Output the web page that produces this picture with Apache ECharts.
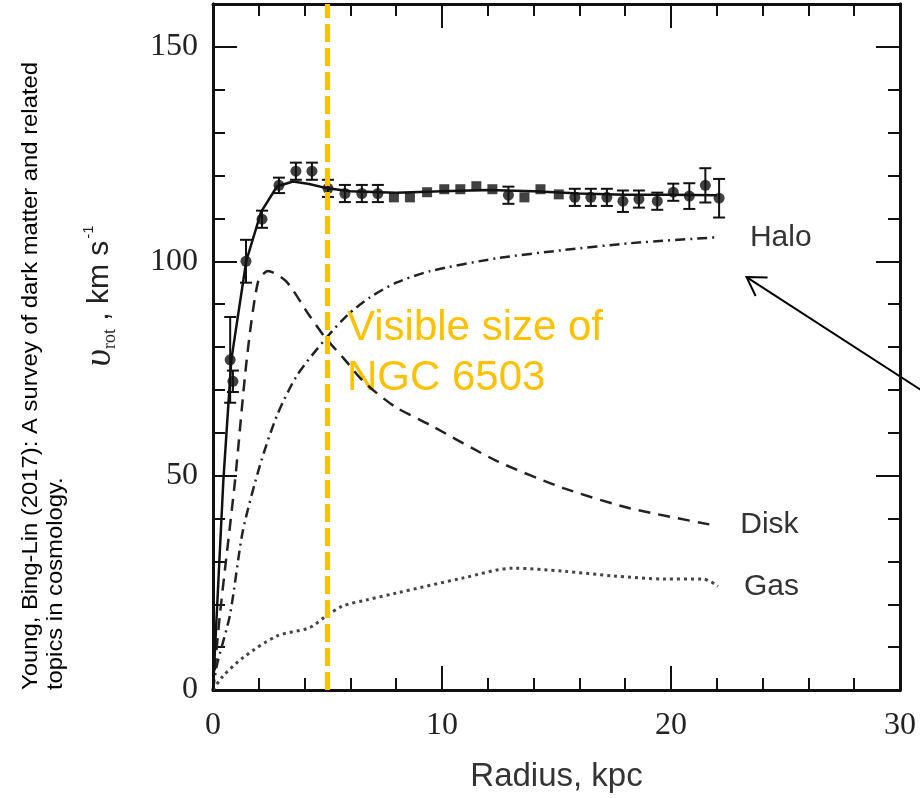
<!DOCTYPE html>
<html>
<head>
<meta charset="utf-8">
<script src="https://cdn.jsdelivr.net/npm/echarts@6/dist/echarts.min.js"></script>
<style>
  html, body { margin: 0; padding: 0; background: #fff; }
  #chart { width: 920px; height: 798px; }
</style>
</head>
<body>
<div id="chart"></div>
<script>
// observed rotation curve of NGC 6503 (radius kpc, velocity km/s, error)
const obsR = [0.75, 0.87, 1.44, 2.14, 2.88, 3.62, 4.32, 5.02, 5.76, 6.5, 7.2, 7.9, 8.6, 9.35, 10.1, 10.8, 11.5, 12.2, 12.9, 13.6, 14.3, 15.1, 15.8, 16.5, 17.2, 17.9, 18.6, 19.4, 20.1, 20.8, 21.5, 22.1];
const obsV = [77, 72, 100, 109.8, 117.7, 121, 121, 117, 115.8, 115.8, 115.8, 114.9, 114.9, 116.1, 116.8, 116.8, 117.5, 116.8, 115.4, 114.9, 116.8, 115.6, 114.9, 114.9, 114.9, 114, 114.5, 114, 116.1, 115.2, 117.7, 114.7];
const obsErr = [10, 2.5, 5, 2, 1.8, 2, 2, 2, 2, 2, 2, 0, 0, 0, 0, 0, 0, 0, 2, 0, 0, 0, 2, 2, 2, 2.5, 2, 2, 2, 3, 4, 4.5];

// model components
const totalR = [0, 0.45, 0.8, 1.45, 2.1, 2.8, 3.5, 4.2, 5, 6, 8, 10, 12, 14, 16, 18, 20, 22];
const totalV = [0, 48.7, 77, 100, 111.5, 117.5, 118.6, 118, 117, 116.3, 116, 116.3, 116.6, 116.3, 115.8, 115.5, 115.5, 115.4];

const haloR = [0, 0.17, 0.74, 1.3, 2.05, 2.8, 3.67, 4.93, 5.9, 6.86, 8.0, 9.48, 12.4, 15.3, 18.2, 22.05];
const haloV = [0, 5.8, 17.5, 37, 52.4, 64.1, 73.4, 82, 87.6, 91.6, 95, 97.7, 100.7, 102.6, 104.2, 105.6];

const diskR = [0, 0.3, 0.96, 1.48, 1.97, 2.4, 3.2, 4.2, 4.93, 5.7, 6.4, 7.0, 8.0, 9.48, 12.4, 15.3, 18.2, 21.8];
const diskV = [0, 17.5, 48.7, 77.4, 95.3, 97.7, 95.3, 87.4, 82, 77.4, 72.9, 69.9, 65.9, 61.8, 53.4, 47.1, 42.4, 38.5];

const gasR = [0, 0.4, 1.3, 2.8, 4.2, 4.93, 5.68, 6.7, 8.0, 10.9, 13.1, 15.3, 17.5, 19.7, 21.4, 22.05];
const gasV = [0, 3, 7.5, 12.6, 14.5, 17.2, 19.6, 21, 22.6, 26.1, 28.4, 27.7, 26.6, 25.9, 25.9, 24.2];

const visibleSize = 5; // kpc

const pairs = (xs, ys) => xs.map((x, i) => [x, ys[i]]);
const obsData = obsR.map((r, i) => [r, obsV[i], obsErr[i]]);

const serif = 'Liberation Serif';
const sans = 'Liberation Sans';
const axisColor = '#111';

function xAx(pos, label) {
  return {
    type: 'value', position: pos, min: 0, max: 30, interval: 10,
    axisLine: { show: true, onZero: false, lineStyle: { color: axisColor, width: 3 } },
    axisTick: { show: true, inside: true, length: 24, lineStyle: { color: axisColor, width: 2 } },
    minorTick: { show: true, splitNumber: 5, length: 12, lineStyle: { color: axisColor, width: 2 } },
    splitLine: { show: false },
    axisLabel: { show: label, fontFamily: serif, fontSize: 32, color: '#222', margin: 20 },
    name: label ? 'Radius, kpc' : '', nameLocation: 'middle', nameGap: 70,
    nameTextStyle: { fontFamily: sans, fontSize: 33, color: '#333' }
  };
}
function yAx(pos, step, len, label) {
  return {
    type: 'value', position: pos, min: 0, max: 160, interval: step,
    axisLine: { show: true, onZero: false, lineStyle: { color: axisColor, width: 3 } },
    axisTick: { show: true, inside: true, length: len, lineStyle: { color: axisColor, width: 2 } },
    splitLine: { show: false },
    axisLabel: {
      show: label, fontFamily: serif, fontSize: 32, color: '#222', margin: 15,
      formatter: v => (v % 50 === 0 ? String(v) : '')
    }
  };
}

const chart = echarts.init(document.getElementById('chart'), null, { renderer: 'canvas' });

chart.setOption({
  animation: false,
  backgroundColor: '#fff',
  grid: { left: 213, right: 20, top: 4, bottom: 106 },
  xAxis: [xAx('bottom', true), xAx('top', false)],
  yAxis: [yAx('left', 50, 24, true), yAx('left', 10, 12, false), yAx('right', 50, 24, false), yAx('right', 10, 12, false)],
  series: [
    {
      name: 'Halo', type: 'line', data: pairs(haloR, haloV), smooth: 0.25, showSymbol: false,
      lineStyle: { color: '#222', width: 2.5, type: [10, 5, 2, 5] },
      endLabel: { show: true, formatter: 'Halo', distance: 32, fontFamily: sans, fontSize: 30, color: '#333' }
    },
    {
      name: 'Disk', type: 'line', data: pairs(diskR, diskV), smooth: 0.25, showSymbol: false,
      lineStyle: { color: '#222', width: 2.5, type: [12, 8] },
      endLabel: { show: true, formatter: 'Disk', distance: 28, fontFamily: sans, fontSize: 30, color: '#333' }
    },
    {
      name: 'Gas', type: 'line', data: pairs(gasR, gasV), smooth: 0.3, showSymbol: false,
      lineStyle: { color: '#444', width: 3, type: [3, 4] },
      endLabel: { show: true, formatter: 'Gas', distance: 26, fontFamily: sans, fontSize: 30, color: '#333' }
    },
    {
      name: 'Total', type: 'line', data: pairs(totalR, totalV), smooth: false, showSymbol: false,
      lineStyle: { color: '#111', width: 2.5 },
      markLine: {
        silent: true, symbol: 'none', animation: false,
        label: { show: false },
        lineStyle: { color: '#FFC000', width: 5, type: [18, 6] },
        data: [{ xAxis: visibleSize }]
      }
    },
    {
      name: 'err', type: 'custom', data: obsData, encode: { x: 0, y: 1 },
      renderItem: function (params, api) {
        const x = api.value(0), v = api.value(1), e = api.value(2);
        if (!e) return null;
        const t = api.coord([x, v + e]);
        const b = api.coord([x, v - e]);
        const st = { stroke: '#111', lineWidth: 2 };
        return {
          type: 'group',
          children: [
            { type: 'line', shape: { x1: t[0], y1: t[1], x2: b[0], y2: b[1] }, style: st },
            { type: 'line', shape: { x1: t[0] - 6, y1: t[1], x2: t[0] + 6, y2: t[1] }, style: st },
            { type: 'line', shape: { x1: b[0] - 6, y1: b[1], x2: b[0] + 6, y2: b[1] }, style: st }
          ]
        };
      }
    },
    {
      name: 'Observed', type: 'scatter', data: obsData,
      symbol: v => (v[2] > 0 ? 'circle' : 'rect'),
      symbolSize: v => (v[2] > 0 ? 11 : 10),
      itemStyle: { color: '#111' }
    }
  ]
});

// annotations
const tip = chart.convertToPixel({ xAxisIndex: 0, yAxisIndex: 0 }, [23.3, 96.3]);
const tail = chart.convertToPixel({ xAxisIndex: 0, yAxisIndex: 0 }, [31.2, 69.0]);
const ang = Math.atan2(tail[1] - tip[1], tail[0] - tip[0]);
const arm = 21;
const a1 = [tip[0] + arm * Math.cos(ang - 0.55), tip[1] + arm * Math.sin(ang - 0.55)];
const a2 = [tip[0] + arm * Math.cos(ang + 0.55), tip[1] + arm * Math.sin(ang + 0.55)];

// citation is set in a narrow face: squeeze regular sans to the same length
const citeLine1 = 'Young, Bing-Lin (2017): A survey of dark matter and related';
const citeLine2 = 'topics in cosmology.';
const mctx = document.createElement('canvas').getContext('2d');
mctx.font = '22px "Liberation Sans"';
const citeScale = 628 / mctx.measureText(citeLine1).width;

chart.setOption({
  graphic: [
    {
      id: 'ylabel', type: 'text', x: 100, y: 296, rotation: Math.PI / 2,
      style: {
        text: '{u|υ}{sub|rot}{n| , km s}{sup|-1}',
        align: 'center', verticalAlign: 'middle',
        rich: {
          u: { fontFamily: serif, fontStyle: 'italic', fontSize: 38, fill: '#222' },
          sub: { fontFamily: serif, fontSize: 18, fill: '#222', verticalAlign: 'bottom', padding: [14, 0, 0, 0] },
          n: { fontFamily: sans, fontSize: 30, fill: '#222' },
          sup: { fontFamily: sans, fontSize: 15, fill: '#222', verticalAlign: 'top', padding: [0, 0, 16, 2] }
        }
      }
    },
    {
      id: 'cite', type: 'text', x: 18, y: 690, rotation: Math.PI / 2, scaleX: citeScale,
      style: {
        text: citeLine1 + '\n' + citeLine2,
        fontFamily: sans, fontSize: 22, lineHeight: 25, fill: '#000',
        align: 'left', verticalAlign: 'top'
      }
    },
    {
      id: 'visible', type: 'text', left: 347, top: 303,
      style: {
        text: 'Visible size of\nNGC 6503', fontFamily: sans, fontSize: 42, lineHeight: 50,
        fill: '#FFC000'
      }
    },
    {
      id: 'arrowLine', type: 'line',
      shape: { x1: tail[0], y1: tail[1], x2: tip[0], y2: tip[1] },
      style: { stroke: '#000', lineWidth: 2 }
    },
    {
      id: 'arrowHead', type: 'polyline',
      shape: { points: [a1, tip, a2] },
      style: { stroke: '#000', lineWidth: 2, fill: null }
    }
  ]
});
</script>
</body>
</html>
